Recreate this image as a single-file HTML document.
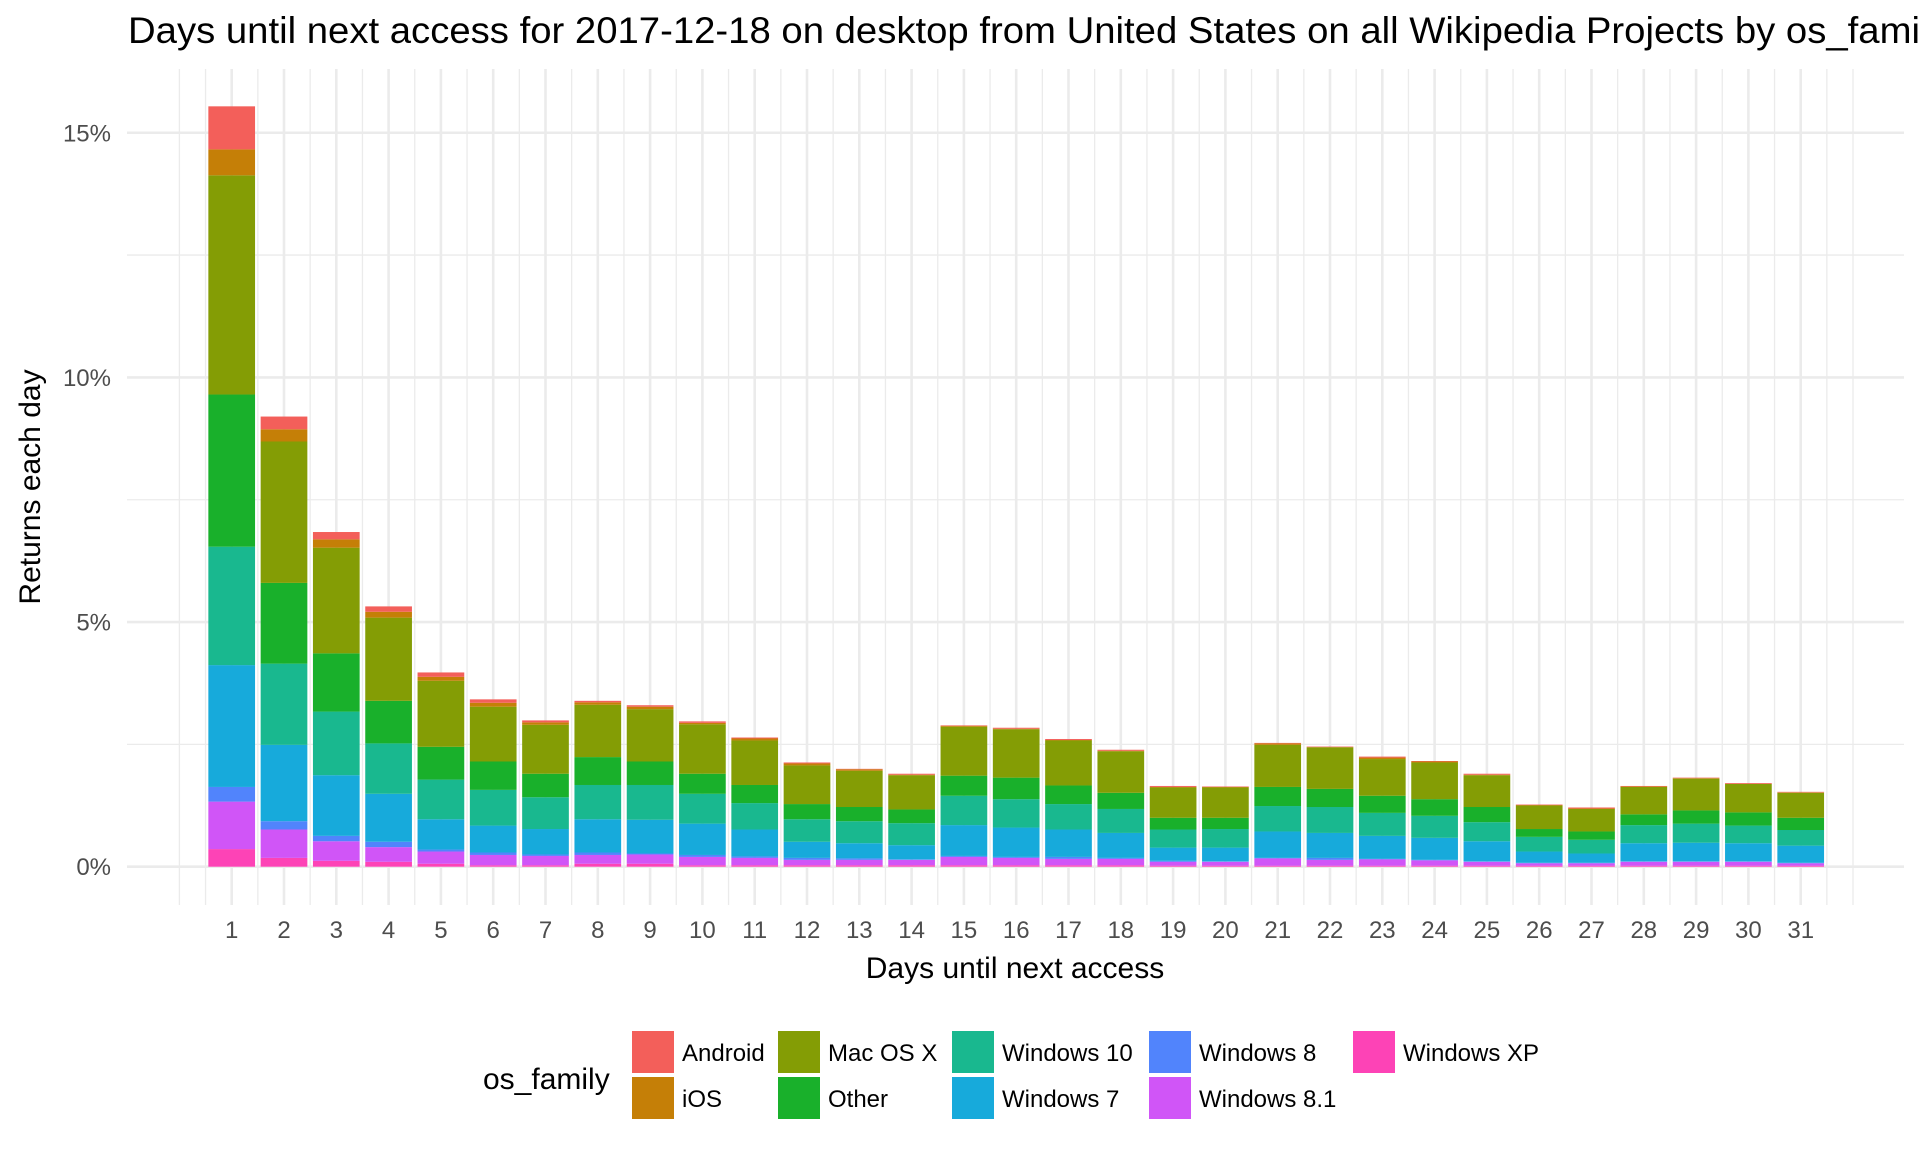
<!DOCTYPE html>
<html><head><meta charset="utf-8"><style>
html,body{margin:0;padding:0;background:#fff;}
svg{display:block;font-family:"Liberation Sans",Arial,sans-serif;}
</style></head><body>
<svg id="chart" width="1920" height="1152" viewBox="0 0 1920 1152" xmlns="http://www.w3.org/2000/svg">
<rect x="0" y="0" width="1920" height="1152" fill="#fff"/>
<g id="grid"></g>
<g id="bars"></g>
<g id="axes"></g>
<text x="128" y="43" font-size="37" fill="#000"><tspan textLength="1792" lengthAdjust="spacingAndGlyphs">Days until next access for 2017-12-18 on desktop from United States on all Wikipedia Projects by os_fami</tspan><tspan>ly</tspan></text>
<text x="1015" y="978" font-size="30" fill="#000" text-anchor="middle">Days until next access</text>
<text transform="translate(40,487) rotate(-90)" font-size="30" fill="#000" text-anchor="middle">Returns each day</text>
<g id="legend">
<text x="483" y="1089" font-size="30" fill="#000">os_family</text>
</g>
</svg>
<script>
const categories = [1,2,3,4,5,6,7,8,9,10,11,12,13,14,15,16,17,18,19,20,21,22,23,24,25,26,27,28,29,30,31];
const seriesNames = ["Windows XP","Windows 8.1","Windows 8","Windows 7","Windows 10","Other","Mac OS X","iOS","Android"];
const winXP   = [.36,.18,.12,.10,.06,.03,.03,.06,.06,.03,.03,.03,.03,.03,.03,.03,.03,.03,.02,.02,.02,.02,.02,.02,.02,.02,.02,.02,.02,.02,.02];
const win81   = [.97,.58,.40,.30,.25,.21,.19,.18,.19,.17,.15,.11,.11,.11,.17,.15,.13,.13,.08,.08,.15,.12,.13,.11,.08,.05,.05,.08,.08,.08,.05];
const win8    = [.30,.17,.11,.11,.04,.05,.03,.05,.02,.04,.03,.04,.03,.01,.02,.02,.04,.02,.02,.01,.01,.04,.01,.01,.01,.01,.01,.01,.01,.01,.01];
const win7    = [2.49,1.56,1.24,.98,.62,.55,.52,.68,.69,.64,.55,.33,.31,.29,.63,.60,.56,.51,.27,.28,.54,.51,.47,.45,.41,.23,.19,.37,.38,.37,.35];
const win10   = [2.42,1.66,1.30,1.03,.81,.73,.65,.70,.71,.61,.54,.46,.45,.45,.60,.58,.52,.49,.37,.38,.52,.53,.47,.45,.39,.30,.28,.37,.39,.36,.32];
const other   = [3.11,1.65,1.19,.87,.67,.58,.48,.57,.48,.41,.37,.31,.29,.28,.41,.44,.38,.33,.24,.23,.39,.37,.35,.34,.31,.16,.17,.22,.27,.27,.25];
const macos   = [4.48,2.89,2.16,1.70,1.35,1.12,1.00,1.07,1.07,1.01,.91,.79,.74,.70,1.00,.99,.92,.85,.62,.62,.86,.85,.75,.75,.65,.48,.46,.56,.65,.58,.51];
const ios     = [.53,.25,.17,.12,.08,.08,.05,.05,.05,.03,.04,.04,.03,.01,.02,.01,.01,.01,.01,.01,.03,.005,.03,.02,.01,.01,.01,.01,.01,.005,.01];
const android = [.88,.26,.15,.11,.09,.07,.04,.03,.03,.03,.02,.02,.01,.02,.01,.02,.02,.02,.02,.01,.01,.01,.02,.01,.02,.01,.02,.01,.01,.015,.01];
const yTicks = [0,5,10,15];
const yTickLabels = ["0%","5%","10%","15%"];

const colors = ["#fd43b6","#d055f7","#5184fc","#17aadb","#19b88f","#19b02b","#849d05","#c57f07","#f35f5a"];
const seriesData = [winXP,win81,win8,win7,win10,other,macos,ios,android];
const NS = "http://www.w3.org/2000/svg";
function xScale(v){ return 231.7 + (v-1)*52.3; }
function yScale(v){ return 866.7 - v*48.93; }
function mk(tag, attrs, parent){ const e=document.createElementNS(NS,tag); for(const k in attrs) e.setAttribute(k,attrs[k]); parent.appendChild(e); return e; }

const grid = document.getElementById('grid');
// horizontal grid
for (let v=0; v<=15; v+=2.5){
  const l = mk('line',{x1:127,x2:1904,y1:yScale(v),y2:yScale(v),stroke:'#ebebeb','stroke-width':(v%5===0)?2.6:1.3},grid);
  
  
}
// vertical grid
for (let v=0; v<=32; v+=0.5){
  const major = (v%1===0) && v>=1 && v<=31;
  const l = mk('line',{x1:xScale(v),x2:xScale(v),y1:69,y2:905,stroke:'#ebebeb','stroke-width':major?2.6:1.3},grid);
  
  
}
// bars
const bars = document.getElementById('bars');
const bw = 46.7;
categories.forEach((c,i)=>{
  let cum = 0;
  seriesData.forEach((s,j)=>{
    const v = s[i];
    const y1 = yScale(cum+v), y0 = yScale(cum);
    const r = mk('rect',{x:xScale(c)-bw/2,y:y1,width:bw,height:Math.max(0,y0-y1),fill:colors[j]},bars);
    
    
    cum += v;
  });
});
// axes labels
const axes = document.getElementById('axes');
yTicks.forEach((t,i)=>{
  const tx = mk('text',{x:111,y:yScale(t)+8.5,'font-size':24,fill:'#4d4d4d','text-anchor':'end'},axes);
  tx.textContent = yTickLabels[i];
  
  
});
categories.forEach(c=>{
  const tx = mk('text',{x:xScale(c),y:938,'font-size':24,fill:'#4d4d4d','text-anchor':'middle'},axes);
  tx.textContent = String(c);
  
  
});
// legend
const legend = document.getElementById('legend');
const legendItems = [
  ["Android",8,632,1031],["iOS",7,632,1077],
  ["Mac OS X",6,778,1031],["Other",5,778,1077],
  ["Windows 10",4,952,1031],["Windows 7",3,952,1077],
  ["Windows 8",2,1149,1031],["Windows 8.1",1,1149,1077],
  ["Windows XP",0,1353,1031]
];
legendItems.forEach(it=>{
  const k = mk('rect',{x:it[2],y:it[3],width:42,height:42,fill:colors[it[1]]},legend);
  
  
  const t = mk('text',{x:it[2]+50,y:it[3]+30,'font-size':24,fill:'#000'},legend);
  t.textContent = it[0];
  
  
});
</script>
</body></html>
